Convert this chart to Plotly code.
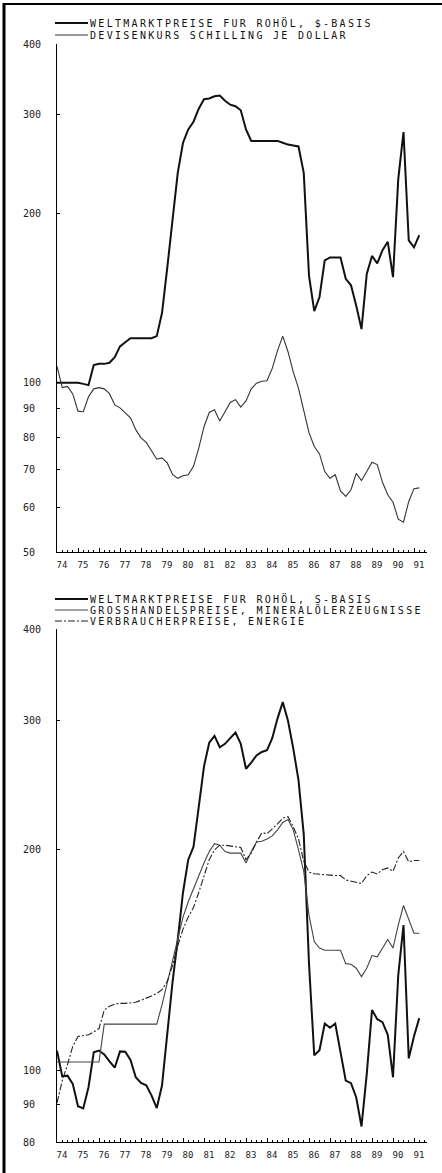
import plotly.graph_objects as go
import math

# ---------------- data (quarterly, 1974 Q1 - 1991 Q2) ----------------
years = list(range(1974, 1992))
quarters = [f"{y}-Q{q}" for y in years for q in (1, 2, 3, 4)][:70]

# Panel 1: index values (log scale)
oil_usd = [100, 100, 100, 100, 100, 99.5, 99, 107.5, 108, 108,
           108.5, 111, 116, 118, 120, 120, 120, 120, 120, 121,
           133, 160, 194, 236, 267, 282, 291, 307, 319, 320,
           323, 324, 317, 312, 310, 305, 282, 269, 269, 269,
           269, 269, 269, 267, 265, 264, 263, 236, 155, 134,
           142, 165, 167, 167, 167, 153, 149, 137, 124.5, 156,
           168, 163, 172, 178, 154, 230, 279, 179, 174, 183]

ats_per_usd = [107, 98, 98.5, 95.5, 89, 88.8, 94.4, 97.5, 98, 97.5,
               95.6, 91.3, 90.2, 88.3, 86.6, 82.5, 79.8, 78.3, 75.8, 73.1,
               73.5, 72, 68.7, 67.6, 68.3, 68.6, 71, 76.5, 83.5, 88.5,
               89.5, 85.5, 88.8, 92.2, 93.3, 90.5, 92.8, 97.5, 99.8, 100.6,
               100.8, 106, 114, 121, 113.5, 104.5, 97.7, 89, 81.5, 77,
               74.7, 69.5, 67.6, 68.6, 64.2, 62.8, 64.5, 69, 67, 69.5,
               72.2, 71.5, 66.5, 63.2, 61.3, 57.2, 56.5, 61.5, 64.8, 65]

# Panel 2
oil_ats = [106.5, 98.3, 98.5, 96, 89.5, 88.9, 95, 106, 106.6, 105.3,
           103, 101, 106.3, 106.2, 103.5, 98, 96.3, 95.6, 92.6, 89,
           95.5, 113, 132, 151, 175, 194, 202, 229, 260, 280,
           286, 276, 279, 284, 289, 279, 258, 263, 269, 272,
           273.5, 284, 302, 318, 300, 275, 249, 210, 140, 105,
           106.7, 116, 114.5, 116, 106, 97, 96.2, 92, 84, 99,
           121, 117.6, 116.5, 112, 98, 135, 158, 104, 111.5, 118]

wpi_mineral = [102.8, 102.8, 102.8, 102.8, 102.8, 102.8, 102.8, 102.8, 102.8, 115.8,
               115.8, 115.8, 115.8, 115.8, 115.8, 115.8, 115.8, 115.8, 115.8, 115.8,
               123, 132, 142, 152, 162, 170, 177, 185, 192, 199,
               204, 203, 199, 198, 198, 198, 192, 199, 205, 205.5,
               207, 209, 213, 218, 220, 213, 200, 187, 163, 150,
               147, 146, 146, 146, 146, 140, 139.7, 138, 134.4, 138,
               143.6, 143, 147, 151, 147, 158, 168, 161, 154, 154]

cpi_energy = [90.4, 97, 102, 108, 111.4, 111.6, 112, 113, 114.2, 121,
              122.5, 123.3, 123.6, 123.6, 123.8, 124, 124.8, 125.5, 126.5, 127.5,
              129, 132.5, 139, 148, 156, 162, 167, 175, 185, 194,
              200, 203, 203, 202.5, 202, 201.5, 194, 198, 205, 211,
              210.5, 213.6, 217, 221, 222, 215, 207, 193, 186.6, 185.6,
              185.2, 185, 184.8, 184.6, 184.6, 182, 181.3, 180.5, 180, 184.5,
              186.6, 185.5, 188, 189, 187, 195, 199, 192.7, 193.5, 193.5]

year_labels = [f"{y % 100:02d}" for y in years]
yticks_top = [50, 60, 70, 80, 90, 100, 200, 300, 400]
yticks_bot = [80, 90, 100, 200, 300, 400]

legend_top = ["WELTMARKTPREISE FUR ROHÖL, $-BASIS",
              "DEVISENKURS SCHILLING JE DOLLAR"]
legend_bot = ["WELTMARKTPREISE FUR ROHÖL, S-BASIS",
              "GROSSHANDELSPREISE, MINERALÖLERZEUGNISSE",
              "VERBRAUCHERPREISE, ENERGIE"]

# ---------------- geometry ----------------
W, H = 442, 1173
ML, MR, MT, MB = 57, 15, 44, 31
PW = W - ML - MR
PH = H - MT - MB


def px_to_paper_x(px):
    return (px - ML) / PW


def px_to_paper_y(py):
    return (H - MB - py) / PH


x_vals = [int(q[:4]) + (int(q[-1]) - 1) / 4 for q in quarters]

FONT = "DejaVu Sans Mono"
DASHDOT = "7px,2px,2px,2px"

fig = go.Figure()
fig.add_trace(go.Scatter(x=x_vals, y=oil_usd, mode="lines", xaxis="x", yaxis="y",
                         line=dict(color="#111", width=2), name=legend_top[0]))
fig.add_trace(go.Scatter(x=x_vals, y=ats_per_usd, mode="lines", xaxis="x", yaxis="y",
                         line=dict(color="#333", width=1.1), name=legend_top[1]))
fig.add_trace(go.Scatter(x=x_vals, y=oil_ats, mode="lines", xaxis="x2", yaxis="y2",
                         line=dict(color="#111", width=2), name=legend_bot[0]))
fig.add_trace(go.Scatter(x=x_vals, y=wpi_mineral, mode="lines", xaxis="x2", yaxis="y2",
                         line=dict(color="#444", width=1.1), name=legend_bot[1]))
fig.add_trace(go.Scatter(x=x_vals, y=cpi_energy, mode="lines", xaxis="x2", yaxis="y2",
                         line=dict(color="#222", width=1.1, dash=DASHDOT), name=legend_bot[2]))

xr = [1974, 1974 + PW / 21.0]
xaxis_common = dict(
    range=xr, showgrid=False, zeroline=False, showline=True, linecolor="black",
    linewidth=1, ticks="inside", ticklen=4, tickcolor="black", tickwidth=1,
    tickmode="array", tickvals=years, ticktext=year_labels,
    tickfont=dict(family=FONT, size=9, color="#222"),
    ticklabelshift=5, ticklabelstandoff=4,
    minor=dict(tickmode="linear", tick0=1974, dtick=0.25, ticks="inside",
               ticklen=2, tickcolor="black", tickwidth=1),
)


def ytext(v):
    s = str(v)
    return s + "\u00a0" * (3 - len(s))


yaxis_common = dict(
    type="log", showgrid=False, zeroline=False, showline=True, linecolor="black",
    linewidth=1, ticks="inside", ticklen=3, tickcolor="black", tickwidth=1,
    tickfont=dict(family=FONT, size=10, color="#222"), ticklabelstandoff=13,
    tickmode="array",
)

top_dom = [px_to_paper_y(552), 1]
bot_dom = [0, px_to_paper_y(629)]

fig.update_layout(
    width=W, height=H, margin=dict(l=ML, r=MR, t=MT, b=MB),
    paper_bgcolor="white", plot_bgcolor="white", showlegend=False,
    xaxis=dict(**xaxis_common, anchor="y", domain=[0, 1]),
    xaxis2=dict(**xaxis_common, anchor="y2", domain=[0, 1]),
    yaxis=dict(**yaxis_common, anchor="x", domain=top_dom,
               range=[math.log10(50), math.log10(400)],
               tickvals=yticks_top, ticktext=[ytext(v) for v in yticks_top]),
    yaxis2=dict(**yaxis_common, anchor="x2", domain=bot_dom,
                range=[math.log10(80), math.log10(400)],
                tickvals=yticks_bot, ticktext=[ytext(v) for v in yticks_bot]),
)

# ---------------- legends (samples + text) ----------------
shapes = []
annotations = []
leg_styles_top = [dict(color="#111", width=2), dict(color="#333", width=1.1)]
leg_styles_bot = [dict(color="#111", width=2), dict(color="#444", width=1.1),
                  dict(color="#222", width=1.1, dash=DASHDOT)]


def add_legend(texts, styles, ys):
    for t, st, yy in zip(texts, styles, ys):
        shapes.append(dict(type="line", xref="paper", yref="paper",
                           x0=px_to_paper_x(55), x1=px_to_paper_x(88),
                           y0=px_to_paper_y(yy), y1=px_to_paper_y(yy), line=st))
        annotations.append(dict(xref="paper", yref="paper", x=px_to_paper_x(88),
                                y=px_to_paper_y(yy), xanchor="left", yanchor="middle",
                                showarrow=False,
                                text=f'<span style="letter-spacing:2.3px">{t}</span>',
                                font=dict(family=FONT, size=10, color="#111")))


add_legend(legend_top, leg_styles_top, [23, 35])
add_legend(legend_bot, leg_styles_bot, [599, 610, 621])

# scan frame (left and top border)
shapes.append(dict(type="line", xref="paper", yref="paper",
                   x0=px_to_paper_x(4), x1=px_to_paper_x(4),
                   y0=px_to_paper_y(3), y1=px_to_paper_y(H),
                   line=dict(color="black", width=3)))
shapes.append(dict(type="line", xref="paper", yref="paper",
                   x0=px_to_paper_x(3), x1=px_to_paper_x(W),
                   y0=px_to_paper_y(4), y1=px_to_paper_y(4),
                   line=dict(color="black", width=2)))

fig.update_layout(shapes=shapes, annotations=annotations)
fig.write_html("out.html",
               config={"displayModeBar": False},
               post_script="document.body.style.margin='0px';"
                           "document.body.style.overflow='hidden';")
